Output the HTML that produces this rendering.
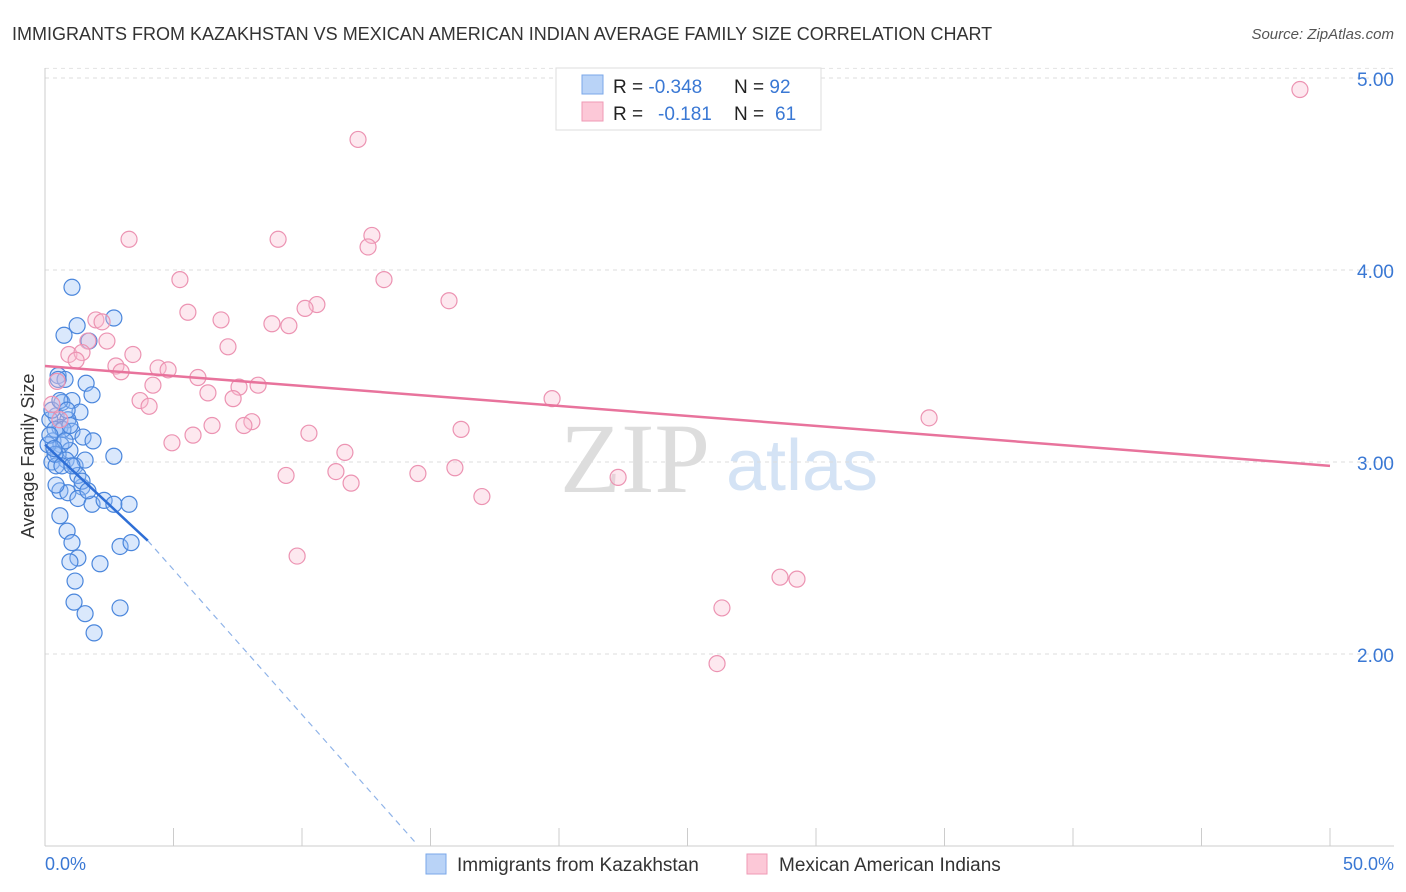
<!DOCTYPE html>
<html><head><meta charset="utf-8"><style>
body{margin:0;background:#fff;font-family:"Liberation Sans",sans-serif;}
#wrap{position:relative;width:1406px;height:892px;overflow:hidden;}
</style></head><body>
<div id="wrap">
<svg id="chart" width="1406" height="892" font-family="Liberation Sans, sans-serif">
<text x="12" y="40" font-size="18" fill="#333">IMMIGRANTS FROM KAZAKHSTAN VS MEXICAN AMERICAN INDIAN AVERAGE FAMILY SIZE CORRELATION CHART</text>
<text x="1394" y="39" font-size="15" fill="#555" font-style="italic" text-anchor="end">Source: ZipAtlas.com</text>
<text x="635" y="492" font-size="100" fill="#ddd" font-family="Liberation Serif, serif" text-anchor="middle">ZIP</text>
<text x="802" y="490" font-size="72" fill="#d4e3f5" text-anchor="middle">atlas</text>
<g id="grid"></g><g id="axes"></g><g id="pts"></g><g id="lines"></g>
<text transform="translate(34,456) rotate(-90)" font-size="18" fill="#333" text-anchor="middle">Average Family Size</text>
<text x="45" y="870" font-size="18" fill="#3a78d4">0.0%</text>
<text x="1394" y="870" font-size="18" fill="#3a78d4" text-anchor="end">50.0%</text>
<g>
<rect x="556" y="68" width="265" height="62" fill="#fff" stroke="#ddd"/>
<rect x="582" y="75" width="21" height="19" fill="#b9d3f7" stroke="#7aa7e8"/>
<rect x="582" y="102" width="21" height="19" fill="#fcc8d7" stroke="#ef9ab5"/>
<text x="613" y="93" font-size="19" fill="#222">R = <tspan fill="#3a78d4">-0.348</tspan><tspan x="734">N = </tspan><tspan fill="#3a78d4">92</tspan></text>
<text x="613" y="120" font-size="19" fill="#222">R = <tspan x="658" fill="#3a78d4">-0.181</tspan><tspan x="734">N = </tspan><tspan x="775" fill="#3a78d4">61</tspan></text>
</g>
<g>
<rect x="426" y="854" width="20" height="20" fill="#b9d3f7" stroke="#7aa7e8"/>
<text x="457" y="871" font-size="19" fill="#333">Immigrants from Kazakhstan</text>
<rect x="747" y="854" width="20" height="20" fill="#fcc8d7" stroke="#ef9ab5"/>
<text x="779" y="871" font-size="19" fill="#333">Mexican American Indians</text>
</g>
</svg>
</div>
<script>
const blueX=[1.05,2.68,1.25,0.74,1.71,0.51,0.78,1.6,1.83,0.66,1.05,1.36,0.43,0.89,0.58,1.05,1.48,1.87,0.31,0.62,0.97,0.51,0.82,1.17,0.27,2.68,0.58,0.89,1.44,1.28,1.83,2.3,2.68,3.27,0.43,0.58,0.86,1.05,2.92,3.35,1.28,0.97,2.14,1.17,1.13,1.56,2.92,1.91,0.19,0.39,0.7,0.12,0.43,0.78,1.28,1.44,1.67,0.27,0.58,0.86,0.39,0.66,0.97,0.51,1.56,1.05,0.19,0.35];
const blueY=[3.91,3.75,3.71,3.66,3.63,3.45,3.43,3.41,3.35,3.31,3.32,3.26,3.24,3.22,3.18,3.16,3.13,3.11,3.11,3.09,3.06,3.04,3.01,2.98,3.0,3.03,2.85,2.84,2.87,2.81,2.78,2.8,2.78,2.78,2.88,2.72,2.64,2.58,2.56,2.58,2.5,2.48,2.47,2.38,2.27,2.21,2.24,2.11,3.22,3.17,3.17,3.09,2.98,3.11,2.93,2.9,2.85,3.27,3.32,3.27,3.04,2.98,3.19,3.43,3.01,2.98,3.14,3.07];
const pinkX=[48.83,12.18,3.27,9.07,12.72,12.57,5.25,13.19,15.72,10.58,10.12,5.56,6.85,1.98,2.22,8.83,9.49,2.41,1.67,7.12,0.93,1.44,3.42,1.21,2.76,2.96,4.4,4.79,5.95,4.2,8.29,7.55,6.34,7.32,3.7,4.05,19.73,34.4,8.05,7.74,6.5,16.19,5.76,10.27,4.94,11.67,15.95,11.32,14.51,9.38,11.91,17.0,22.3,9.81,28.6,29.26,26.34,26.15,0.47,0.27,0.58];
const pinkY=[4.94,4.68,4.16,4.16,4.18,4.12,3.95,3.95,3.84,3.82,3.8,3.78,3.74,3.74,3.73,3.72,3.71,3.63,3.63,3.6,3.56,3.57,3.56,3.53,3.5,3.47,3.49,3.48,3.44,3.4,3.4,3.39,3.36,3.33,3.32,3.29,3.33,3.23,3.21,3.19,3.19,3.17,3.14,3.15,3.1,3.05,2.97,2.95,2.94,2.93,2.89,2.82,2.92,2.51,2.4,2.39,2.24,1.95,3.42,3.3,3.22];
const yTicks=[2,3,4,5];
const yTickLabels=["2.00","3.00","4.00","5.00"];
const xTicks=[0,5,10,15,20,25,30,35,40,45,50];
const blueTrend=[3.09,2.59,1.02]; // at x=0, 4, 14.4
const blueTrendX=[0,4,14.4];
const pinkTrend=[3.5,2.98];
const pinkTrendX=[0,50];
const NS="http://www.w3.org/2000/svg";
const sx=v=>45+v*25.7, sy=v=>846-(v-1)*192;
function mk(p,t,a){const e=document.createElementNS(NS,t);for(const k in a)e.setAttribute(k,a[k]);document.getElementById(p).appendChild(e);return e;}
yTicks.forEach((t,i)=>{
 const g=mk('grid','line',{x1:45,x2:1394,y1:sy(t),y2:sy(t),stroke:'#ddd','stroke-dasharray':'4,4'});
 
 
 const l=mk('axes','text',{x:1394,y:sy(t)+8,'font-size':19,fill:'#3a78d4','text-anchor':'end'});
 l.textContent=yTickLabels[i];
 
 
});
const tg=mk('grid','line',{x1:45,x2:1394,y1:sy(5.05),y2:sy(5.05),stroke:'#e3e3e3','stroke-dasharray':'4,4'});
mk('axes','line',{x1:45,x2:45,y1:68,y2:846,stroke:'#ccc'});
mk('axes','line',{x1:45,x2:1394,y1:846,y2:846,stroke:'#ccc'});
xTicks.forEach(t=>{
 const k=mk('axes','line',{x1:sx(t),x2:sx(t),y1:828,y2:846,stroke:'#ccc'});
 
 
});
blueX.forEach((x,i)=>{
 const c=mk('pts','circle',{cx:sx(x),cy:sy(blueY[i]),r:8,fill:'rgba(150,190,245,0.35)',stroke:'#4a86dc','stroke-width':1.2});
 
 
});
pinkX.forEach((x,i)=>{
 const c=mk('pts','circle',{cx:sx(x),cy:sy(pinkY[i]),r:8,fill:'rgba(250,190,210,0.35)',stroke:'#ec93b2','stroke-width':1.2});
 
 
});
const pl=mk('lines','line',{x1:sx(pinkTrendX[0]),y1:sy(pinkTrend[0]),x2:sx(pinkTrendX[1]),y2:sy(pinkTrend[1]),stroke:'#e8739c','stroke-width':2.5});


const bl=mk('lines','line',{x1:sx(blueTrendX[0]),y1:sy(blueTrend[0]),x2:sx(blueTrendX[1]),y2:sy(blueTrend[1]),stroke:'#2f6fd6','stroke-width':2.5});


const bd=mk('lines','line',{x1:sx(blueTrendX[1]),y1:sy(blueTrend[1]),x2:sx(blueTrendX[2]),y2:sy(blueTrend[2]),stroke:'#8fb3e8','stroke-width':1.2,'stroke-dasharray':'6,5'});


</script>
</body></html>
